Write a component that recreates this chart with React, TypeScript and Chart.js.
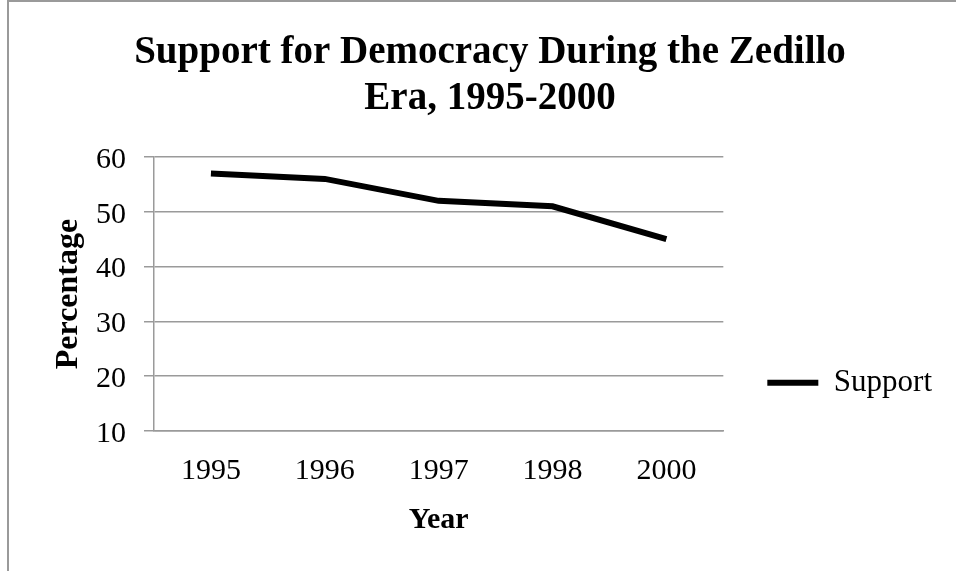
import React, { useEffect, useRef } from 'react';
import { Chart, registerables } from 'chart.js';

Chart.register(...registerables);

// ---- data ----
const categories: string[] = ['1995', '1996', '1997', '1998', '2000'];
const supportValues: number[] = [57, 56, 52, 51, 45];
const seriesName = 'Support';
const chartTitle: string[] = ['Support for Democracy During the Zedillo', 'Era, 1995-2000'];
const xAxisTitle = 'Year';
const yAxisTitle = 'Percentage';
const yMin = 10;
const yMax = 60;
const yStep = 10;

// ---- layout ----
const SERIF = "'Liberation Serif', 'Times New Roman', Times, serif";
const OFFSET_LEFT = 38; // canvas left on page
const PAD_RIGHT = 14;
const CW = 956 - OFFSET_LEFT;
const CH = 571;
const PLOT_LEFT = 154;
const PLOT_BOTTOM = 431;
const GRID = '#9a9a9a';

export default function App() {
  const ref = useRef<HTMLCanvasElement | null>(null);

  useEffect(() => {
    if (!ref.current) return;
    const chart = new Chart(ref.current, {
      type: 'line',
      data: {
        labels: categories,
        datasets: [
          {
            label: seriesName,
            data: supportValues,
            borderColor: '#000',
            backgroundColor: '#000',
            borderWidth: 6,
            pointRadius: 0,
            pointHoverRadius: 0,
            tension: 0,
            borderCapStyle: 'butt',
            borderJoinStyle: 'miter',
            fill: false,
          },
        ],
      },
      options: {
        responsive: false,
        animation: false,
        devicePixelRatio: 1,
        layout: { padding: { left: 0, right: PAD_RIGHT, top: 0, bottom: 0 } },
        plugins: {
          title: {
            display: true,
            text: chartTitle,
            color: '#000',
            font: { family: SERIF, size: 39, weight: 'bold', lineHeight: '46px' },
            padding: { top: 30, bottom: 157 - 92 - 30 },
          },
          legend: {
            display: true,
            position: 'right',
            align: 'center',
            title: { display: true, text: '', padding: { top: 180, bottom: 0 } },
            labels: {
              color: '#000',
              font: { family: SERIF, size: 31 },
              boxWidth: 51,
              boxHeight: 6,
              padding: 44,
              generateLabels: (c: any) =>
                c.data.datasets.map((ds: any, i: number) => ({
                  text: ds.label,
                  fillStyle: '#000',
                  strokeStyle: '#000',
                  fontColor: '#000',
                  lineWidth: 0,
                  hidden: false,
                  datasetIndex: i,
                })),
            },
          },
          tooltip: { enabled: false },
        },
        scales: {
          x: {
            type: 'category',
            offset: true,
            grid: { display: false, drawTicks: false },
            border: { display: true, color: GRID, width: 1.5 },
            ticks: {
              color: '#000',
              font: { family: SERIF, size: 30 },
              padding: 22,
              maxRotation: 0,
              autoSkip: false,
            },
            title: {
              display: true,
              text: xAxisTitle,
              color: '#000',
              font: { family: SERIF, size: 30, weight: 'bold' },
              padding: { top: 0, bottom: 33 },
            },
            afterFit: (s: any) => {
              s.height = CH - PLOT_BOTTOM;
            },
          },
          y: {
            min: yMin,
            max: yMax,
            grid: { color: GRID, lineWidth: 1.5, drawTicks: true, tickLength: 10 },
            border: { display: true, color: GRID, width: 1.5 },
            ticks: {
              stepSize: yStep,
              color: '#000',
              font: { family: SERIF, size: 30 },
              padding: 18,
              labelOffset: 3,
            },
            title: {
              display: true,
              text: yAxisTitle,
              color: '#000',
              font: { family: SERIF, size: 32, weight: 'bold' },
              padding: { top: 69 - OFFSET_LEFT - 19.2, bottom: 0 },
            },
            afterFit: (s: any) => {
              s.width = PLOT_LEFT - OFFSET_LEFT;
            },
          },
        },
      },
    } as any);
    return () => chart.destroy();
  }, []);

  return (
    <>
      <div
        style={{
          position: 'absolute',
          left: 7,
          top: 0,
          width: 949,
          height: 571,
          boxSizing: 'border-box',
          borderLeft: '2px solid #9a9a9a',
          borderTop: '2px solid #9a9a9a',
        }}
      />
      <canvas
        ref={ref}
        width={CW}
        height={CH}
        style={{ position: 'absolute', left: OFFSET_LEFT, top: 0, width: CW, height: CH }}
      />
    </>
  );
}
